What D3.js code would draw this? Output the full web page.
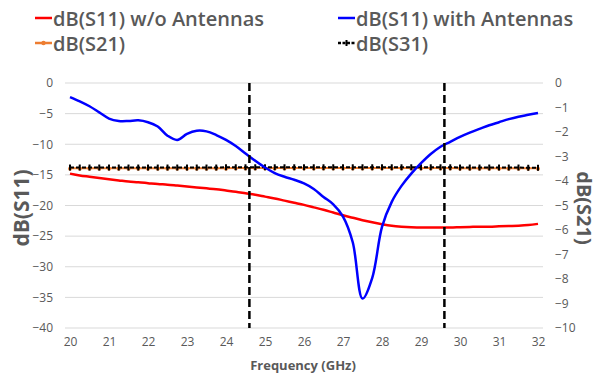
<!DOCTYPE html>
<html>
<head>
<meta charset="utf-8">
<script src="https://cdn.jsdelivr.net/npm/d3@7"></script>
<style>
  body { margin: 0; background: #fff; }
  svg text { font-family: "Open Sans", sans-serif; fill: #595959; }
</style>
</head>
<body>
<svg id="chart" width="600" height="374"></svg>
<script>
// frequency samples (GHz)
const freq = [20, 20.25, 20.5, 20.75, 21, 21.25, 21.5, 21.75, 22, 22.25, 22.5, 22.75,
  23, 23.25, 23.5, 23.75, 24, 24.25, 24.5, 24.75, 25, 25.25, 25.5, 25.75,
  26, 26.25, 26.5, 26.75, 27, 27.25, 27.5, 27.75, 28, 28.25, 28.5, 28.75,
  29, 29.25, 29.5, 29.75, 30, 30.25, 30.5, 30.75, 31, 31.25, 31.5, 31.75, 32];

const s11NoAnt = [-14.8, -15.1, -15.3, -15.5, -15.7, -15.9, -16.1, -16.2, -16.35, -16.5, -16.6, -16.75,
  -16.9, -17.05, -17.2, -17.35, -17.55, -17.75, -18.0, -18.25, -18.55, -18.85, -19.2, -19.55,
  -19.9, -20.3, -20.7, -21.15, -21.6, -22.0, -22.4, -22.75, -23.05, -23.3, -23.45, -23.55,
  -23.6, -23.6, -23.6, -23.6, -23.55, -23.5, -23.45, -23.45, -23.4, -23.35, -23.3, -23.2, -23.0];

const s11Ant = [-2.3, -3.0, -3.8, -4.8, -5.8, -6.2, -6.2, -6.1, -6.4, -7.1, -8.6, -9.3,
  -8.3, -7.8, -7.9, -8.5, -9.3, -10.3, -11.5, -12.7, -13.8, -14.7, -15.3, -15.8,
  -16.4, -17.3, -18.6, -19.8, -21.8, -26.0, -35.2, -31.8, -23.5, -19.4, -16.8, -14.8,
  -13.1, -11.6, -10.4, -9.6, -8.8, -8.1, -7.5, -6.9, -6.4, -5.9, -5.5, -5.2, -4.9];

const s21 = [-3.48, -3.48, -3.48, -3.48, -3.48, -3.48, -3.48, -3.48, -3.48, -3.48, -3.48, -3.48,
  -3.48, -3.48, -3.48, -3.48, -3.48, -3.47, -3.47, -3.47, -3.47, -3.47, -3.47, -3.47,
  -3.47, -3.47, -3.47, -3.47, -3.47, -3.47, -3.47, -3.47, -3.47, -3.47, -3.47, -3.47,
  -3.47, -3.47, -3.47, -3.47, -3.48, -3.48, -3.48, -3.48, -3.48, -3.48, -3.48, -3.48, -3.48];

const s31 = [-3.45, -3.45, -3.45, -3.45, -3.45, -3.45, -3.45, -3.45, -3.45, -3.45, -3.45, -3.45,
  -3.45, -3.45, -3.45, -3.45, -3.44, -3.44, -3.44, -3.44, -3.44, -3.44, -3.44, -3.44,
  -3.44, -3.44, -3.44, -3.44, -3.44, -3.44, -3.44, -3.44, -3.44, -3.44, -3.44, -3.44,
  -3.44, -3.44, -3.44, -3.44, -3.45, -3.45, -3.45, -3.45, -3.45, -3.45, -3.45, -3.46, -3.46];

const markerFreqs = [24.6, 29.6];
const xTicks = [20, 21, 22, 23, 24, 25, 26, 27, 28, 29, 30, 31, 32];
const leftTicks = [0, -5, -10, -15, -20, -25, -30, -35, -40];
const rightTicks = [0, -1, -2, -3, -4, -5, -6, -7, -8, -9, -10];

const svg = d3.select('#chart');

const x = d3.scaleLinear().domain([20, 32]).range([70, 538]);
const yL = d3.scaleLinear().domain([-40, 0]).range([328, 83]);
const yR = d3.scaleLinear().domain([-10, 0]).range([328, 83]);

// gridlines (left axis)
svg.append('g')
    .selectAll('line')
    .data(leftTicks)
    .join('line')
    .attr('x1', 65)
    .attr('x2', 543)
    .attr('y1', (d) => yL(d))
    .attr('y2', (d) => yL(d))
    .attr('stroke', '#d9d9d9')
    .attr('stroke-width', 1);

const styleTicks = (g) => {
    g.select('.domain').remove();
    g.selectAll('text')
        .style('font-size', '12px')
        .style('font-family', '"Open Sans", sans-serif')
        .attr('fill', '#595959');
};

// left axis
svg.append('g')
    .attr('transform', 'translate(53,0)')
    .call(d3.axisLeft(yL).tickValues(leftTicks).tickSize(0).tickPadding(0))
    .call(styleTicks);

// right axis
svg.append('g')
    .attr('transform', 'translate(555,0)')
    .call(d3.axisRight(yR).tickValues(rightTicks).tickSize(0).tickPadding(0))
    .call(styleTicks);

// bottom axis
svg.append('g')
    .attr('transform', 'translate(0,337)')
    .call(d3.axisBottom(x).tickValues(xTicks).tickFormat(d3.format('d')).tickSize(0).tickPadding(0))
    .call(styleTicks);

// axis titles
svg.append('text')
    .attr('transform', 'translate(29,208) rotate(-90)')
    .attr('text-anchor', 'middle')
    .style('font-size', '21px')
    .style('font-weight', 'bold')
    .text('dB(S11)');

svg.append('text')
    .attr('transform', 'translate(577,208) rotate(90)')
    .attr('text-anchor', 'middle')
    .style('font-size', '20px')
    .style('font-weight', 'bold')
    .text('dB(S21)');

svg.append('text')
    .attr('x', 303)
    .attr('y', 370)
    .attr('text-anchor', 'middle')
    .style('font-size', '13px')
    .style('font-weight', 'bold')
    .text('Frequency (GHz)');

const rows = freq.map((f, i) => ({ f, a: s11NoAnt[i], b: s11Ant[i], c: s21[i], d: s31[i] }));

const lineL = (key, curve) => d3.line().x((d) => x(d.f)).y((d) => yL(d[key])).curve(curve);
const lineR = (key) => d3.line().x((d) => x(d.f)).y((d) => yR(d[key]));

// S21 (orange) with round markers
svg.append('path')
    .datum(rows)
    .attr('d', lineR('c'))
    .attr('fill', 'none')
    .attr('stroke', '#ed7d31')
    .attr('stroke-width', 2);
svg.append('g')
    .selectAll('circle')
    .data(rows)
    .join('circle')
    .attr('cx', (d) => x(d.f))
    .attr('cy', (d) => yR(d.c) + 0.5)
    .attr('r', 2)
    .attr('fill', '#ed7d31');

// S31 (black dashed) with tick markers
svg.append('path')
    .datum(rows)
    .attr('d', lineR('d'))
    .attr('fill', 'none')
    .attr('stroke', '#000')
    .attr('stroke-width', 2)
    .attr('stroke-dasharray', '4,2');
svg.append('g')
    .selectAll('rect')
    .data(rows)
    .join('rect')
    .attr('x', (d) => x(d.f) - 1)
    .attr('y', (d) => yR(d.d) - 3)
    .attr('width', 2)
    .attr('height', 6)
    .attr('fill', '#000');

// S11 curves
svg.append('path')
    .datum(rows)
    .attr('d', lineL('a', d3.curveMonotoneX))
    .attr('fill', 'none')
    .attr('stroke', '#ff0000')
    .attr('stroke-width', 2.5);

svg.append('path')
    .datum(rows)
    .attr('d', lineL('b', d3.curveCatmullRom.alpha(0.5)))
    .attr('fill', 'none')
    .attr('stroke', '#0000ff')
    .attr('stroke-width', 2.5);

// vertical dashed markers
svg.append('g')
    .selectAll('line')
    .data(markerFreqs)
    .join('line')
    .attr('x1', (d) => x(d))
    .attr('x2', (d) => x(d))
    .attr('y1', yL(0))
    .attr('y2', yL(-40))
    .attr('stroke', '#000')
    .attr('stroke-width', 2.5)
    .attr('stroke-dasharray', '8,4');

// legend
const legendItems = [
    { name: 'dB(S11) w/o Antennas', color: '#ff0000', x: 35, y: 18, marker: null },
    { name: 'dB(S11) with Antennas', color: '#0000ff', x: 338, y: 18, marker: null },
    { name: 'dB(S21)', color: '#ed7d31', x: 35, y: 43, marker: 'circle' },
    { name: 'dB(S31)', color: '#000', x: 338, y: 43, marker: 'tick' },
];

const legend = svg.append('g')
    .selectAll('g')
    .data(legendItems)
    .join('g')
    .attr('transform', (d) => `translate(${d.x},${d.y})`);

legend.append('line')
    .attr('x1', 0)
    .attr('x2', 17)
    .attr('stroke', (d) => d.color)
    .attr('stroke-width', 2.5)
    .attr('stroke-dasharray', (d) => (d.marker === 'tick' ? '3,1.5' : null));
legend.filter((d) => d.marker === 'circle')
    .append('circle')
    .attr('cx', 8.5)
    .attr('r', 2.2)
    .attr('fill', (d) => d.color);
legend.filter((d) => d.marker === 'tick')
    .append('rect')
    .attr('x', 7.5)
    .attr('y', -3)
    .attr('width', 2)
    .attr('height', 6)
    .attr('fill', (d) => d.color);
legend.append('text')
    .attr('x', 18)
    .attr('y', 7.5)
    .style('font-size', '20px')
    .style('font-weight', 600)
    .text((d) => d.name);
</script>
</body>
</html>
